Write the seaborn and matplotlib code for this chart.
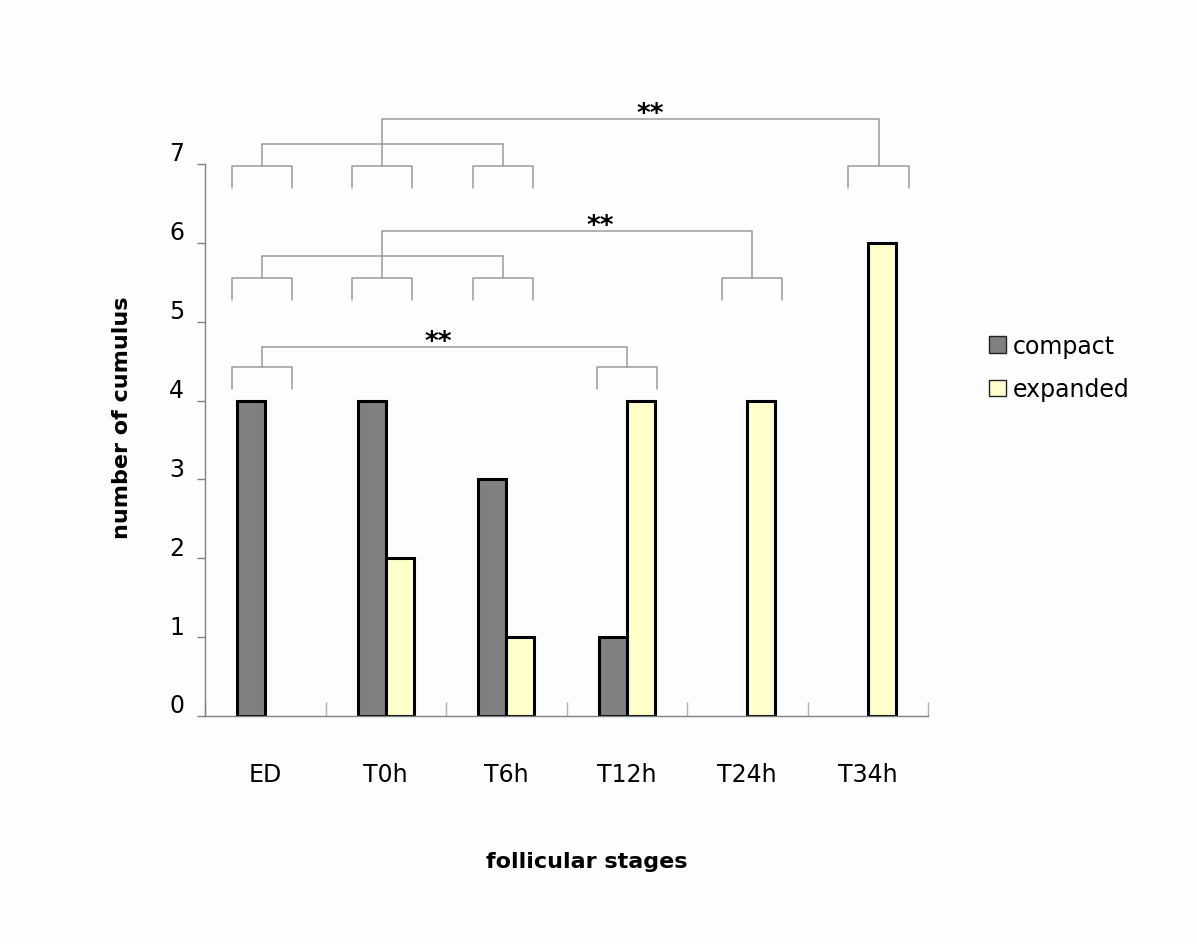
import matplotlib
matplotlib.use("Agg")
import matplotlib.pyplot as plt
from matplotlib.patches import Patch
from matplotlib.transforms import ScaledTranslation
import numpy as np
import pandas as pd
import seaborn as sns

# data
stages = ["ED", "T0h", "T6h", "T12h", "T24h", "T34h"]
compact = [4, 4, 3, 1, 0, 0]
expanded = [0, 2, 1, 4, 4, 6]

# significance brackets: (left group, right stage, label)
comparisons = [
    (["ED", "T0h", "T6h"], "T34h", "**"),
    (["ED", "T0h", "T6h"], "T24h", "**"),
    (["ED"], "T12h", "**"),
]

df = pd.DataFrame({
    "stage": stages * 2,
    "type": ["compact"] * len(stages) + ["expanded"] * len(stages),
    "count": compact + expanded,
})

bg = "#fcfdff"
line_col = "#9a9a9a"
sns.set_style("white")
plt.rcParams["font.family"] = ["DejaVu Sans"]
plt.rcParams["text.color"] = "black"
plt.rcParams["xtick.labelcolor"] = "black"
plt.rcParams["ytick.labelcolor"] = "black"

fig = plt.figure(figsize=(11.97, 9.45), dpi=100, facecolor=bg)
ax = fig.add_axes([205/1197, 1-717/945, 723/1197, 8*78.86/945])
ax.set_facecolor(bg)

sns.barplot(data=df, x="stage", y="count", hue="type", order=stages,
            hue_order=["compact", "expanded"],
            palette={"compact": "#808080", "expanded": "#ffffcc"},
            width=0.465, edgecolor="black", linewidth=2.2, saturation=1,
            legend=False, ax=ax)
for p in ax.patches:
    if p.get_height() == 0:
        p.set_edgecolor("none")

ax.set_xlim(-0.5, len(stages) - 0.5)
ax.set_ylim(0, 8)
ax.set_xlabel("")
ax.set_ylabel("")

for s in ["top", "right"]:
    ax.spines[s].set_visible(False)
for s in ["left", "bottom"]:
    ax.spines[s].set_color("#808080")
    ax.spines[s].set_linewidth(1.0)
ax.spines["left"].set_bounds(0, 7)

ax.set_yticks(range(8))
ax.tick_params(axis="y", direction="out", length=6, width=1, color="#808080",
               labelsize=17, pad=9, left=True)
off = ScaledTranslation(0, 0.13, fig.dpi_scale_trans)
for lab in ax.get_yticklabels():
    lab.set_transform(lab.get_transform() + off)

ax.set_xticks(range(len(stages)))
ax.set_xticklabels(stages)
ax.tick_params(axis="x", length=0, labelsize=17, pad=33)
ax.set_xticks(np.arange(-0.5, len(stages)), minor=True)
ax.tick_params(axis="x", which="minor", direction="in", length=10, width=1,
               color="#b0b0b0", bottom=True)

# brackets
nudge = [-0.03, -0.03, -0.03, 0.0, 0.04, 0.09]
half = 0.25
levels = [6.70, 5.28, 4.15]
star_frac = [0.54, 0.59, 0.485]
leg_h = 0.27


def cap(x, y0):
    xl, xr = x - half, x + half
    ax.plot([xl, xl, xr, xr], [y0, y0 + leg_h, y0 + leg_h, y0],
            color=line_col, lw=1.1, clip_on=False)


for (group, target, lab), y0, fr in zip(comparisons, levels, star_frac):
    top = y0 + leg_h
    xs = [stages.index(g) + nudge[stages.index(g)] for g in group]
    xt = stages.index(target) + nudge[stages.index(target)]
    for x in xs:
        cap(x, y0)
    cap(xt, y0)
    if len(xs) > 1:
        join = top + 0.28
        for x in xs:
            ax.plot([x, x], [top, join], color=line_col, lw=1.1)
        ax.plot([xs[0], xs[-1]], [join, join], color=line_col, lw=1.1)
        xs0 = xs[len(xs) // 2]
        high = top + 0.6
        ax.plot([xs0, xs0], [join, high], color=line_col, lw=1.1)
    else:
        xs0 = xs[0]
        high = top + 0.26
        ax.plot([xs0, xs0], [top, high], color=line_col, lw=1.1)
    ax.plot([xs0, xt, xt], [high, high, top], color=line_col, lw=1.1)
    ax.text(xs0 + (xt - xs0) * fr, high - 0.03, lab, ha="center",
            va="baseline", fontsize=19, fontweight="bold")

fig.text(122/1197, 1-418/945, "number of cumulus", rotation=90, ha="center",
         va="center", fontsize=16, fontweight="bold")
fig.text(587/1197, 1-862/945, "follicular stages", ha="center", va="center",
         fontsize=16, fontweight="bold")

handles = [Patch(facecolor="#808080", edgecolor="#222222", lw=1),
           Patch(facecolor="#ffffcc", edgecolor="#222222", lw=1)]
fig.legend(handles, ["compact", "expanded"], loc="upper left",
           bbox_to_anchor=(989/1197, 1-335/945), frameon=False, fontsize=17,
           handlelength=0.7, handleheight=0.7, handletextpad=0.3,
           labelspacing=0.82, borderpad=0, borderaxespad=0)

fig.savefig("out.png", dpi=100, facecolor=bg)
